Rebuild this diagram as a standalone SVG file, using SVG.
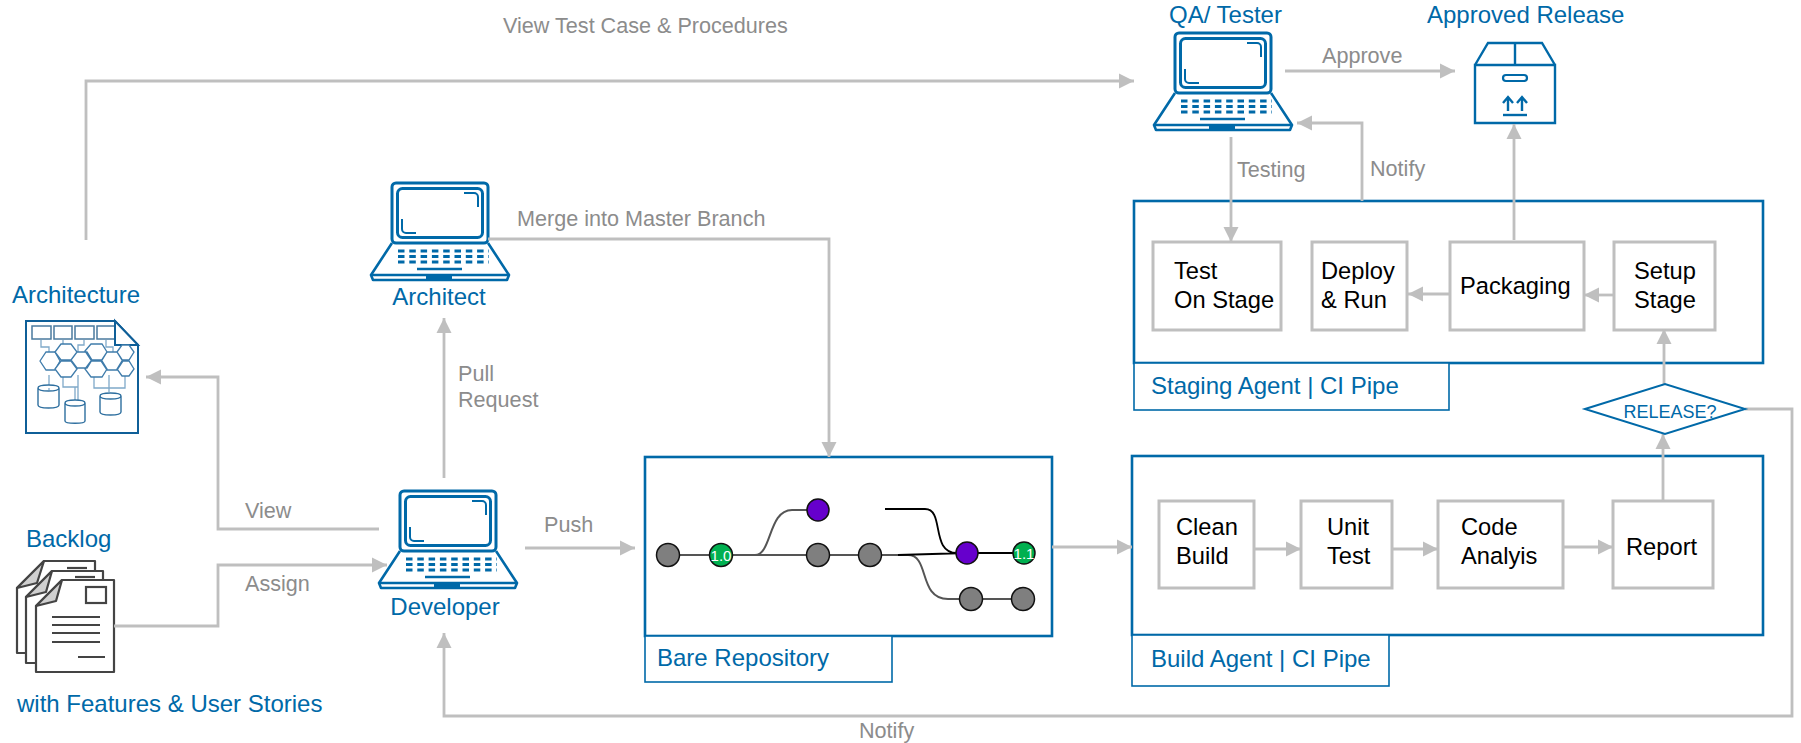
<svg xmlns="http://www.w3.org/2000/svg" xmlns:xlink="http://www.w3.org/1999/xlink" width="1801" height="743" viewBox="0 0 1801 743">
<style>
text{font-family:"Liberation Sans",Arial,sans-serif}
.t{font-size:24px;fill:#0069a8}
.g{font-size:21.6px;fill:#8c8c8c}
.k{font-size:23.7px;fill:#000}
.pipe{fill:#fff;stroke:#0069a8;stroke-width:2.6}
.lab{fill:#fff;stroke:#0069a8;stroke-width:1.6}
.step{fill:#fff;stroke:#bfbfbf;stroke-width:3}
.c{fill:none;stroke:#bfbfbf;stroke-width:2.8;marker-end:url(#ah)}
.bl{fill:none;stroke:#0069a8}
.dk{fill:#fff;stroke:#444;stroke-width:2.2;stroke-linejoin:round}
.dl{fill:none;stroke:#444;stroke-width:2.2}
.hex{fill:#fff;stroke:#3f7cab;stroke-width:1.3}
.thin{fill:none;stroke:#7fa9c9;stroke-width:1.3}
.cyl{fill:#fff;stroke:#2e6f9f;stroke-width:1.4}
.node{stroke:#111;stroke-width:1.5}
.gl{fill:none;stroke:#555;stroke-width:2}
.bk{fill:none;stroke:#000;stroke-width:1.8}
</style>
<defs>
<marker id="ah" markerUnits="userSpaceOnUse" markerWidth="16" markerHeight="16" refX="15" refY="8" orient="auto"><path d="M0 0.5L15 8L0 15.5z" fill="#bfbfbf"/></marker>
<g id="laptop">
<rect x="22" y="2" width="96" height="60" rx="4" class="bl" stroke-width="3"/>
<rect x="27.5" y="7.5" width="85" height="49" rx="5" class="bl" stroke-width="3"/>
<path d="M94 12h10a4 4 0 0 1 4 4v10M32 38v10a4 4 0 0 0 4 4h10" class="bl" stroke-width="2"/>
<path d="M22 62L1 94L3 99H137L139 94L118 62" class="bl" stroke-width="2.6" stroke-linejoin="round"/>
<path d="M2 94H138" class="bl" stroke-width="2.6"/>
<path d="M28 70H119M28 75.500H119M28 81H119" class="bl" stroke-width="2.8" stroke-dasharray="6.500 4.800"/>
<path d="M47 88H92" class="bl" stroke-width="2.6"/>
<rect x="56" y="93" width="26" height="6" fill="#0069a8"/>
</g>
</defs>
<rect width="1801" height="743" fill="#fff"/>

<g id="staging-agent">
<rect class="pipe" x="1134" y="201" width="629" height="162"/>
<rect class="lab" x="1134" y="363" width="315" height="47"/>
<text class="t" x="1151" y="394">Staging Agent | CI Pipe</text>
</g>
<g id="test-on-stage"><rect class="step" x="1153" y="242" width="128" height="88"/><text class="k" x="1174" y="279">Test</text><text class="k" x="1174" y="308">On Stage</text></g>
<g id="deploy-run"><rect class="step" x="1312" y="242" width="95" height="88"/><text class="k" x="1321" y="279">Deploy</text><text class="k" x="1321" y="308">&amp; Run</text></g>
<g id="packaging"><rect class="step" x="1450" y="242" width="134" height="88"/><text class="k" x="1460" y="294">Packaging</text></g>
<g id="setup-stage"><rect class="step" x="1614" y="242" width="101" height="88"/><text class="k" x="1634" y="279">Setup</text><text class="k" x="1634" y="308">Stage</text></g>

<g id="build-agent">
<rect class="pipe" x="1132" y="456" width="631" height="179"/>
<rect class="lab" x="1132" y="635" width="257" height="51"/>
<text class="t" x="1151" y="667">Build Agent | CI Pipe</text>
</g>
<g id="clean-build"><rect class="step" x="1159" y="501" width="95" height="87"/><text class="k" x="1176" y="535">Clean</text><text class="k" x="1176" y="564">Build</text></g>
<g id="unit-test"><rect class="step" x="1301" y="501" width="91" height="87"/><text class="k" x="1327" y="535">Unit</text><text class="k" x="1327" y="564">Test</text></g>
<g id="code-analysis"><rect class="step" x="1438" y="501" width="125" height="87"/><text class="k" x="1461" y="535">Code</text><text class="k" x="1461" y="564">Analyis</text></g>
<g id="report"><rect class="step" x="1613" y="501" width="100" height="87"/><text class="k" x="1626" y="555">Report</text></g>

<g id="bare-repository">
<rect class="pipe" x="645" y="457" width="407" height="179"/>
<rect class="lab" x="645" y="636" width="247" height="46"/>
<text class="t" x="657" y="666">Bare Repository</text>
<path class="gl" d="M668 555H870M755 555C772 555 768 510 792 510H818"/>
<path class="gl" d="M878 555H908C930 555 918 599 948 599H1023"/>
<path class="bk" d="M898 555L967 553H1024M885 509H925C945 509 930 553 957 553"/>
<circle class="node" cx="668" cy="555" r="11.500" fill="#7f7f7f"/>
<circle class="node" cx="721" cy="555" r="11.500" fill="#00b050"/>
<text x="721" y="561" text-anchor="middle" font-size="15" fill="#fff">1.0</text>
<circle class="node" cx="818" cy="510" r="11" fill="#6600cc"/>
<circle class="node" cx="818" cy="555" r="11.500" fill="#7f7f7f"/>
<circle class="node" cx="870" cy="555" r="11.500" fill="#7f7f7f"/>
<circle class="node" cx="967" cy="553" r="11" fill="#6600cc"/>
<circle class="node" cx="1024" cy="553" r="11" fill="#00b050"/>
<text x="1024" y="559" text-anchor="middle" font-size="15" fill="#fff">1.1</text>
<circle class="node" cx="971" cy="599" r="11.500" fill="#7f7f7f"/>
<circle class="node" cx="1023" cy="599" r="11.500" fill="#7f7f7f"/>
</g>

<g id="qa-tester">
<use xlink:href="#laptop" href="#laptop" x="1153" y="31"/>
<text class="t" x="1169" y="23">QA/ Tester</text>
</g>
<g id="approved-release">
<text class="t" x="1427" y="23">Approved Release</text>
<path class="bl" stroke-width="2.4" d="M1475 65H1555V123H1475zM1475 65L1488 43H1542L1555 65M1515 43V65"/>
<rect x="1503" y="75" width="24" height="6" rx="3" fill="none" stroke="#0069a8" stroke-width="2.2"/>
<path class="bl" stroke-width="2.4" d="M1503 115H1527"/>
<path class="bl" stroke-width="2.4" d="M1508 111V98M1503 103L1508 97L1513 103M1522 111V98M1517 103L1522 97L1527 103"/>
</g>
<g id="architect">
<use xlink:href="#laptop" href="#laptop" x="370" y="181"/>
<text class="t" x="439" y="305" text-anchor="middle">Architect</text>
</g>
<g id="developer">
<use xlink:href="#laptop" href="#laptop" x="378" y="489"/>
<text class="t" x="445" y="615" text-anchor="middle">Developer</text>
</g>

<g id="architecture">
<text class="t" x="12" y="303">Architecture</text>
<path d="M26 321H115L138 345V433H26z" fill="#fff" stroke="#0f5f98" stroke-width="2"/>
<path class="thin" d="M41 340V347H49V360M63 340V349M84 340V345H78V360M106 340V347H113V360M128 345V352M49 375V390M63 375V387H78V400M78 375V387M94 372V388H125V372M109 375V392M75 387V400"/>
<g fill="#fff" stroke="#4a7a9e" stroke-width="1.5"><rect x="32" y="326" width="19" height="13"/><rect x="54" y="326" width="18" height="13"/><rect x="75" y="326" width="19" height="13"/><rect x="97" y="326" width="19" height="13"/></g>
<path d="M115 321V345H138z" fill="#fff" stroke="#0f5f98" stroke-width="2"/>
<path class="hex" d="M40 361L46 352H55L60 361L55 370H46z"/>
<path class="hex" d="M55 352L61 344H71L77 352L71 360H61zM55 369L61 361H71L77 369L71 377H61zM71 360L77 352H87L92 360L87 368H77zM85 351L91 344H102L107 352L102 360H91zM85 369L91 361H102L107 369L102 377H91zM101 361L107 352H117L123 361L117 370H107zM117 352L122 345H129L134 352L129 360H122zM117 369L122 361H129L134 369L129 376H122z"/>
<path class="cyl" d="M38 388C38 384 59 384 59 388V405C59 409 38 409 38 405zM38 388C38 392 59 392 59 388"/>
<path class="cyl" d="M65 403C65 399 85 399 85 403V421C85 424 65 424 65 421zM65 403C65 407 85 407 85 403"/>
<path class="cyl" d="M100 396C100 392 121 392 121 396V412C121 416 100 416 100 412zM100 396C100 400 121 400 121 396"/>
</g>

<g id="backlog">
<text class="t" x="26" y="547">Backlog</text>
<path class="dk" d="M44 561H95V653H17V588z"/>
<path d="M44 561L17 588L37 583z" fill="#d0d0d0" stroke="#444" stroke-width="2.2" stroke-linejoin="round"/>
<path class="dk" d="M52 571H103V663H26V597z"/>
<path d="M52 571L26 597L46 592z" fill="#d0d0d0" stroke="#444" stroke-width="2.2" stroke-linejoin="round"/>
<path d="M67 568H87" class="dl" stroke-width="3"/>
<path class="dk" d="M62 580H114V672H36V606z"/>
<path d="M62 580L36 606L56 601z" fill="#d0d0d0" stroke="#444" stroke-width="2.2" stroke-linejoin="round"/>
<path d="M75 577H95" class="dl" stroke-width="3"/>
<rect class="dl" x="86" y="587" width="20" height="16"/>
<path class="dl" d="M52 617H100M52 625H100M52 633H100M52 642H100M78 657H105"/>
<text class="t" x="17" y="712">with Features &amp; User Stories</text>
</g>

<g id="connectors">
<path class="c" d="M86 240V81H1134"/>
<path class="c" d="M1285 71H1455"/>
<path class="c" d="M1362 201V123H1297"/>
<path class="c" d="M1231 137V242"/>
<path class="c" d="M1514 240V124"/>
<path class="c" d="M1664 384V329"/>
<path class="c" d="M1663 501V434"/>
<path class="c" d="M1745 409H1792V716H444V633"/>
<path class="c" d="M1614 295H1584"/>
<path class="c" d="M1450 294H1408"/>
<path class="c" d="M1254 549H1301"/>
<path class="c" d="M1392 549H1438"/>
<path class="c" d="M1563 547H1613"/>
<path class="c" d="M1052 547H1132"/>
<path class="c" d="M525 548H635"/>
<path class="c" d="M444 478V318"/>
<path class="c" d="M488 239H829V457"/>
<path class="c" d="M379 529H218V377H146"/>
<path class="c" d="M114 626H218V565H387"/>
</g>

<g id="release">
<path d="M1585 409L1665 384L1745 409L1665 434z" fill="#fff" stroke="#0069a8" stroke-width="2"/>
<text x="1670" y="418" text-anchor="middle" font-size="18" fill="#0069a8">RELEASE?</text>
</g>

<g id="labels">
<text class="g" x="503" y="33">View Test Case &amp; Procedures</text>
<text class="g" x="1322" y="63">Approve</text>
<text class="g" x="1237" y="177">Testing</text>
<text class="g" x="1370" y="176">Notify</text>
<text class="g" x="517" y="226">Merge into Master Branch</text>
<text class="g" x="458" y="381">Pull</text>
<text class="g" x="458" y="407">Request</text>
<text class="g" x="245" y="518">View</text>
<text class="g" x="245" y="591">Assign</text>
<text class="g" x="544" y="532">Push</text>
<text class="g" x="859" y="738">Notify</text>
</g>
</svg>
